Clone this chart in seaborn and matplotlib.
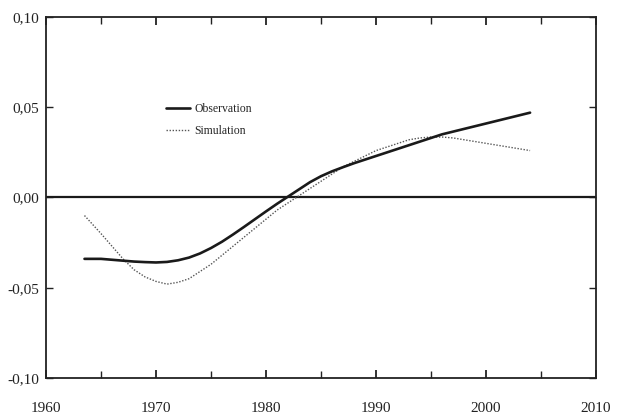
import matplotlib
matplotlib.use("Agg")
import matplotlib.pyplot as plt
import matplotlib.ticker as mticker
import numpy as np
import pandas as pd
import seaborn as sns

years = [1963.5, 1965, 1966, 1967, 1968, 1969, 1970, 1971, 1972, 1973, 1974,
         1975, 1976, 1977, 1978, 1979, 1980, 1981, 1982, 1983, 1984, 1985,
         1986, 1987, 1988, 1989, 1990, 1991, 1992, 1993, 1994, 1995, 1996,
         1997, 1998, 1999, 2000, 2001, 2002, 2003, 2004]

observation = [-0.034, -0.034, -0.0345, -0.035, -0.0355, -0.0358, -0.036,
               -0.0357, -0.0348, -0.0333, -0.031, -0.028, -0.0245, -0.0205,
               -0.0163, -0.012, -0.0077, -0.0035, 0.0005, 0.0045, 0.0085,
               0.0118, 0.0145, 0.0168, 0.019, 0.021, 0.023, 0.025, 0.027,
               0.029, 0.031, 0.033, 0.035, 0.0365, 0.038, 0.0395, 0.041,
               0.0425, 0.044, 0.0455, 0.047]

simulation = [-0.010, -0.020, -0.027, -0.034, -0.040, -0.044, -0.0465,
              -0.048, -0.047, -0.045, -0.041, -0.037, -0.032, -0.027, -0.022,
              -0.017, -0.012, -0.007, -0.003, 0.001, 0.005, 0.009, 0.013,
              0.017, 0.020, 0.023, 0.026, 0.028, 0.030, 0.032, 0.033, 0.0335,
              0.0335, 0.033, 0.032, 0.031, 0.030, 0.029, 0.028, 0.027, 0.026]

x_ticks = [1960, 1970, 1980, 1990, 2000, 2010]
y_ticks = [-0.10, -0.05, 0.00, 0.05, 0.10]

sns.set_theme(style="white")
plt.rcParams["font.family"] = ["Liberation Serif", "DejaVu Serif"]
plt.rcParams["font.size"] = 8.5

df = pd.DataFrame({"year": years, "Observation": observation,
                   "Simulation": simulation})

fig = plt.figure(figsize=(6.19, 4.19), dpi=100)
ax = fig.add_axes([0.0743, 0.0979, 0.8887, 0.8615])

ax.axhline(0, color="#1a1a1a", lw=1.6, zorder=1)
sns.lineplot(data=df, x="year", y="Observation", ax=ax, color="#1a1a1a",
             lw=1.9, label="Observation", zorder=3)
sns.lineplot(data=df, x="year", y="Simulation", ax=ax, color="#555555",
             lw=1.0, linestyle=(0, (1, 1.2)), label="Simulation", zorder=2)

ax.set_xlim(1960, 2010)
ax.set_ylim(-0.10, 0.10)
ax.set_xticks(x_ticks)
ax.set_xticks(np.arange(1965, 2010, 10), minor=True)
ax.set_yticks(y_ticks)
ax.yaxis.set_major_formatter(
    mticker.FuncFormatter(lambda v, p: f"{v:.2f}".replace(".", ",").replace("-0,00", "0,00")))
ax.set_xlabel("")
ax.set_ylabel("")

for s in ax.spines.values():
    s.set_visible(True)
    s.set_color("#222222")
    s.set_linewidth(1.3)

ax.tick_params(axis="both", which="both", direction="in", top=True,
               right=True, bottom=True, left=True, colors="#222222",
               labelcolor="#222222")
ax.tick_params(axis="x", which="major", length=6, width=1.3, pad=17)
ax.tick_params(axis="x", which="minor", length=5, width=1.0)
ax.tick_params(axis="y", which="major", length=5, width=1.0, pad=5)

leg = ax.legend(loc="upper left", bbox_to_anchor=(0.199, 0.792),
                frameon=False, handlelength=2.0, handletextpad=0.4,
                labelspacing=0.9, fontsize=8.5)

fig.savefig("out.png", dpi=100)
